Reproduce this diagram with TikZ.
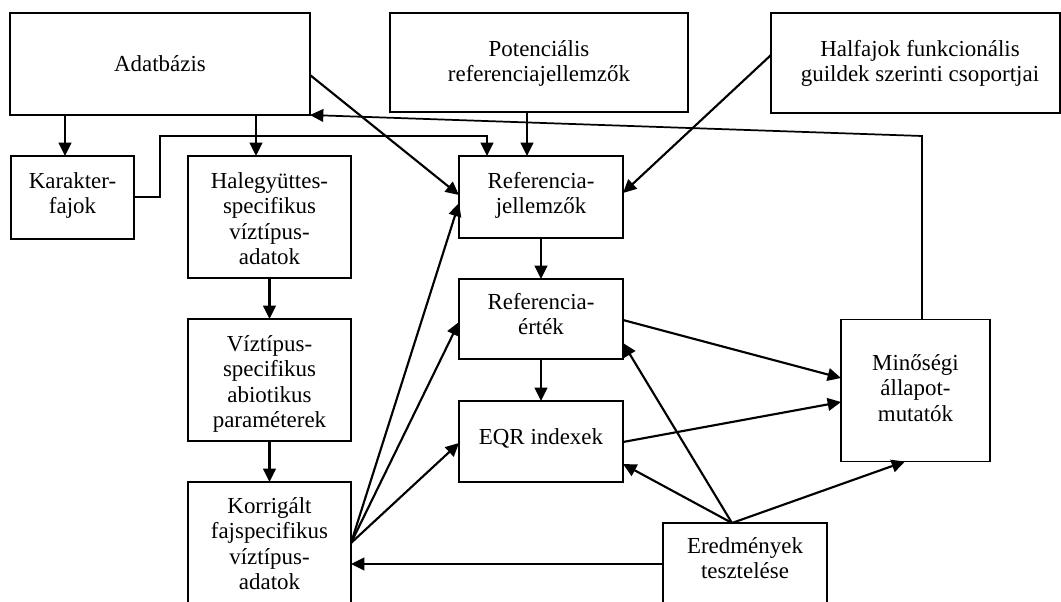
\documentclass[tikz,border=0pt]{standalone}
\usepackage{fontspec}
\setmainfont{Liberation Serif}
\usetikzlibrary{arrows.meta,calc}
\begin{document}
\begin{tikzpicture}[x=0.75pt,y=-0.75pt,
  box/.style 2 args={draw, line width=1.1pt, minimum width=#1*0.75pt, minimum height=#2*0.75pt, inner sep=0pt, outer sep=0pt},
  txt/.style={font=\fontsize{17.2pt}{19.1pt}\selectfont, align=center, anchor=north, inner sep=0pt},
  arr/.style={line width=1.6pt, -{Triangle[length=10pt,width=9.5pt]}},
  route/.style={line width=1.2pt}]
\fill[white] (0,0) rectangle (1061,602);
\useasboundingbox (0,0) rectangle (1061,602);

% boxes
\node[box={300}{102}] (adat) at (160,64) {};
\node[txt] (adat-t) at (160,55) {Adatbázis};
\node[box={298}{99}] (pot) at (539,62.5) {};
\node[txt] (pot-t) at (539,40) {Potenciális\\referenciajellemzők};
\node[box={289}{100}] (half) at (915.5,63) {};
\node[txt] (half-t) at (920,40) {Halfajok funkcionális\\guildek szerinti csoportjai};
\node[box={123}{83}] (kar) at (72.5,197.5) {};
\node[txt] (kar-t) at (72.5,172) {Karakter-\\fajok};
\node[box={163}{122}] (hal) at (269.5,217) {};
\node[txt] (hal-t) at (269.5,172) {Halegyüttes-\\specifikus\\víztípus-\\adatok};
\node[box={163}{122}] (viz) at (269.5,380) {};
\node[txt] (viz-t) at (269.5,335) {Víztípus-\\specifikus\\abiotikus\\paraméterek};
\node[box={163}{168}] (kor) at (269.5,566) {};
\node[txt] (kor-t) at (269.5,497) {Korrigált\\fajspecifikus\\víztípus-\\adatok};
\node[box={164}{82}] (rj) at (541,197) {};
\node[txt] (rj-t) at (541,172) {Referencia-\\jellemzők};
\node[box={164}{80}] (re) at (541,319) {};
\node[txt] (re-t) at (541,293) {Referencia-\\érték};
\node[box={164}{81}] (eqr) at (541,441.5) {};
\node[txt] (eqr-t) at (541,428) {EQR indexek};
\node[box={149}{142}] (min) at (915.5,390.5) {};
\node[txt] (min-t) at (915.5,354) {Minőségi\\állapot-\\mutatók};
\node[box={164}{137}] (ered) at (745,591.5) {};
\node[txt] (ered-t) at (745,537) {Eredmények\\tesztelése};

% connectors
\draw[arr] (adat.south -| 65,0) -- (kar.north -| 65,0);
\draw[arr] (adat.south -| 256,0) -- (hal.north -| 256,0);
\draw[arr] (hal) -- (viz);
\draw[arr] (viz) -- (kor.north -| viz.south);
\draw[arr,route] (kar.east |- 0,197) -| (160,136) -| (rj.north -| 487,0);
\draw[arr] (pot.south -| 527,0) -- (rj.north -| 527,0);
\draw[arr] (adat.east |- 0,75) -- (rj.west |- 0,195);
\draw[arr] (half.west |- 0,55) -- (rj.east |- 0,193);
\draw[arr,line width=1.3pt] (min.north -| 922,0) -- (922,136) -- (adat.south east);
\draw[arr] (rj) -- (re);
\draw[arr] (re) -- (eqr);
\coordinate (k0) at (kor.east |- 0,543);
\draw[arr] (k0) -- (rj.west |- 0,203);
\draw[arr] (k0) -- (re.west |- 0,322);
\draw[arr] (k0) -- (eqr.west |- 0,443);
\draw[arr] (re.east |- 0,320) -- (min.west |- 0,378);
\draw[arr] (eqr.east |- 0,442) -- (min.west |- 0,402);
\coordinate (e0) at (ered.north -| 732,0);
\draw[arr] (e0) -- (eqr.east |- 0,464);
\draw[arr] (e0) -- (re.east |- 0,343);
\draw[arr] (e0) -- (min.south -| 905,0);
\draw[arr] (ered.west |- 0,564) -- (kor.east |- 0,564);
\end{tikzpicture}
\end{document}
